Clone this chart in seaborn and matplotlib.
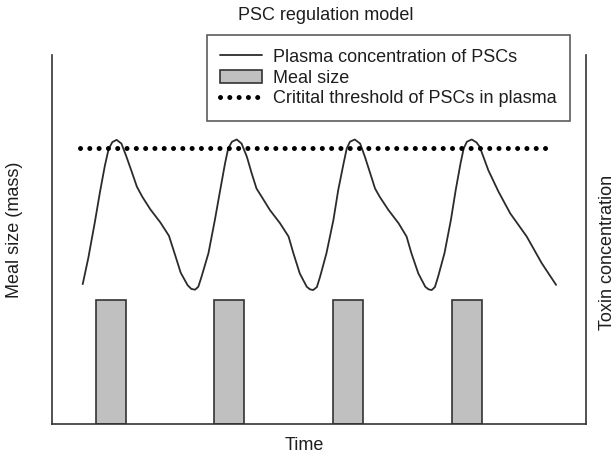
import matplotlib
matplotlib.use("Agg")
import matplotlib.pyplot as plt
import seaborn as sns
import pandas as pd
from matplotlib.patches import Patch
from matplotlib.lines import Line2D

sns.set_theme(style="white")
plt.rcParams['font.family'] = ['Liberation Sans', 'DejaVu Sans']

# ---- data (time and values in arbitrary units, 0-100) ----
curve_time = [5.75, 6.8, 8.0, 9.0, 9.9, 10.6, 11.3, 12.1, 13.0, 13.9, 14.9, 15.9, 16.9, 18.4, 20.3, 21.9,
              22.9, 24.1, 25.4, 26.1, 26.8, 27.4,
              28.0, 29.3, 30.5, 31.5, 32.4, 33.0, 33.7, 34.6, 35.5, 36.5, 37.4, 38.3, 39.3, 40.8, 42.7, 44.3,
              45.2, 46.4, 47.7, 48.3, 48.9, 49.6,
              50.2, 51.4, 52.7, 53.6, 54.6, 55.2, 55.8, 56.7, 57.7, 58.6, 59.6, 60.5, 61.4, 63.0, 64.9, 66.4,
              67.3, 68.6, 69.9, 70.5, 71.1, 71.7,
              72.3, 73.5, 74.7, 75.6, 76.5, 77.1, 77.7, 78.6, 79.5, 80.1, 81.7, 83.6, 85.8, 88.9, 91.7, 94.4]
curve_conc = [37.9, 45.0, 54.5, 63.0, 70.0, 74.5, 76.4, 77.0, 76.0, 72.6, 68.5, 64.3, 61.6, 58.2, 54.6, 51.0,
              46.5, 41.0, 37.6, 36.6, 36.4, 37.2,
              39.9, 46.3, 55.3, 63.4, 70.6, 74.7, 76.5, 77.1, 76.0, 72.4, 67.9, 63.8, 61.5, 58.0, 54.4, 50.8,
              46.3, 40.8, 37.2, 36.5, 36.3, 37.1,
              39.9, 46.3, 55.3, 63.4, 70.6, 74.7, 76.5, 77.1, 76.0, 72.4, 67.9, 63.8, 61.5, 58.0, 54.4, 50.8,
              46.3, 40.8, 37.2, 36.5, 36.3, 37.1,
              39.9, 46.3, 55.3, 63.4, 70.6, 74.7, 76.5, 77.1, 76.3, 75.1, 68.8, 63.0, 57.1, 50.8, 43.6, 37.7]
meal_time = [11.0, 33.2, 55.4, 77.7]
meal_size = [33.6, 33.6, 33.6, 33.6]
meal_width = 5.6
threshold_time = [5.2, 93.3]
threshold_level = [74.8, 74.8]

title = "PSC regulation model"
x_label = "Time"
y_label_left = "Meal size (mass)"
y_label_right = "Toxin concentration"
legend_labels = ["Plasma concentration of PSCs", "Meal size", "Critital threshold of PSCs in plasma"]

W, H = 616, 453
fig = plt.figure(figsize=(W / 100, H / 100), dpi=100)
ax = fig.add_axes([52 / W, (H - 424) / H, (586 - 52) / W, (424 - 55) / H])

dark = "#2b2b2b"
txt = "#1e1e1e"
ax.bar(meal_time, meal_size, width=meal_width, color="#c0c0c0", edgecolor="#333333", linewidth=1.2, zorder=2)

df_curve = pd.DataFrame({"time": curve_time, "conc": curve_conc})
sns.lineplot(data=df_curve, x="time", y="conc", ax=ax, color=dark, linewidth=1.3, sort=False,
             estimator=None, zorder=3)
df_thr = pd.DataFrame({"time": threshold_time, "level": threshold_level})
dot_style = (0, (0.01, 1.85))
sns.lineplot(data=df_thr, x="time", y="level", ax=ax, color="black", linewidth=3.6,
             linestyle=dot_style, dash_capstyle="round", zorder=4)

ax.set_xlim(0, 100)
ax.set_ylim(0, 100)
ax.set_xticks([])
ax.set_yticks([])
ax.set_xlabel("")
ax.set_ylabel("")
for s in ["left", "right", "bottom"]:
    ax.spines[s].set_visible(True)
    ax.spines[s].set_color("#333333")
    ax.spines[s].set_linewidth(1.2)
ax.spines["top"].set_visible(False)

fig.text(326 / W, 1 - 15 / H, title, ha="center", va="center", fontsize=13, color=txt)
fig.text(304 / W, 1 - 445 / H, x_label, ha="center", va="center", fontsize=13, color=txt)
fig.text(15 / W, 1 - 230 / H, y_label_left, ha="center", va="center", rotation=90, fontsize=13, color=txt)
fig.text(607 / W, 1 - 252 / H, y_label_right, ha="center", va="center", rotation=90, fontsize=13, color=txt)

handles = [Line2D([0], [0], color=dark, linewidth=1.3),
           Patch(facecolor="#c0c0c0", edgecolor="#333333", linewidth=1.2),
           Line2D([0], [0], color="black", linewidth=3.6, linestyle=dot_style, dash_capstyle="round")]
leg = fig.legend(handles, legend_labels, loc="upper right", bbox_to_anchor=(570 / W, 1 - 35 / H),
                 borderaxespad=0, fontsize=13, frameon=True, fancybox=False, handlelength=2.3,
                 handletextpad=0.6, labelspacing=0.22, borderpad=0.75)
leg.get_frame().set_edgecolor("#333333")
leg.get_frame().set_linewidth(1.2)
for t in leg.get_texts():
    t.set_color(txt)

fig.savefig("out.png", dpi=100)
